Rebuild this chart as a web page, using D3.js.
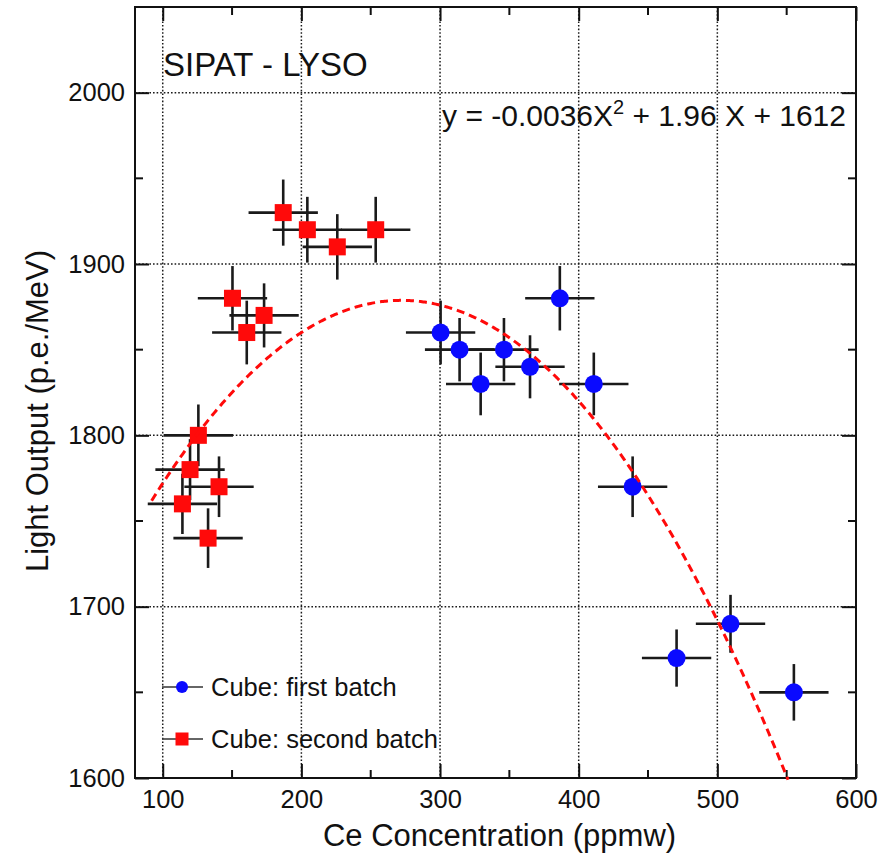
<!DOCTYPE html>
<html>
<head>
<meta charset="utf-8">
<script src="https://cdn.jsdelivr.net/npm/d3@7/dist/d3.min.js"></script>
<style>
  html, body { margin: 0; padding: 0; background: #fff; }
  svg text { font-family: "Liberation Sans", Arial, Helvetica, sans-serif; fill: #111; }
</style>
</head>
<body>
<svg id="chart" width="889" height="855"></svg>
<script>
// Cube samples, first batch (blue circles)
const firstX    = [300.4, 314.1, 329.3, 346.1, 364.9, 386.4, 410.9, 438.9, 470.6, 509.5, 555.2];
const firstY    = [1860, 1850, 1830, 1850, 1840, 1880, 1830, 1770, 1670, 1690, 1650];
const firstXErr = [25, 25, 25, 25, 25, 25, 25, 25, 25, 25, 25];
const firstYErr = [18.6, 18.5, 18.3, 18.5, 18.4, 18.8, 18.3, 17.7, 16.7, 16.9, 16.5];

// Cube samples, second batch (red squares)
const secondX    = [186.9, 204.3, 225.9, 253.6, 150.3, 173.1, 160.6, 125.7, 119.7, 140.6, 114.2, 132.7];
const secondY    = [1930, 1920, 1910, 1920, 1880, 1870, 1860, 1800, 1780, 1770, 1760, 1740];
const secondXErr = [25, 25, 25, 25, 25, 25, 25, 25, 25, 25, 25, 25];
const secondYErr = [19.3, 19.2, 19.1, 19.2, 18.8, 18.7, 18.6, 18.0, 17.8, 17.7, 17.6, 17.4];

// Quadratic fit y = a x^2 + b x + c
const fitA = -0.0036, fitB = 1.96, fitC = 1612;
const fitRange = [92, 551];

// Axis ticks
const xTicks = [100, 200, 300, 400, 500, 600];
const xMinor = [150, 250, 350, 450, 550];
const yTicks = [1600, 1700, 1800, 1900, 2000];
const yMinor = [1650, 1750, 1850, 1950];
const xGrid = [100, 200, 300, 400, 500];
const yGrid = [1700, 1800, 1900, 2000];

const legendLabels = ["Cube: first batch", "Cube: second batch"];

const blue = "#0a0aff", red = "#ff0a0a", barColor = "#1a1a1a";

const svg = d3.select("#chart");
const L = 135, R = 856, T = 7, B = 778;

const x = d3.scaleLinear().domain([80, 600]).range([L, R]);
const y = d3.scaleLinear().domain([1600, 2050]).range([B, T]);

// grid
const grid = svg.append("g").attr("stroke", "#1a1a1a").attr("stroke-width", 1.5)
  .attr("stroke-dasharray", "1.6,2");
grid.selectAll("line.gx").data(xGrid).join("line")
  .attr("x1", d => x(d)).attr("x2", d => x(d)).attr("y1", T).attr("y2", B);
grid.selectAll("line.gy").data(yGrid).join("line")
  .attr("y1", d => y(d)).attr("y2", d => y(d)).attr("x1", L).attr("x2", R);

// axes with inward ticks on all four sides
const major = 14, minor = 8;
const axBottom = d3.axisBottom(x).tickValues(xTicks).tickSize(-major).tickPadding(12).tickFormat(d3.format("d"));
const axLeft = d3.axisLeft(y).tickValues(yTicks).tickSize(-major).tickPadding(10).tickFormat(d3.format("d"));

const gB = svg.append("g").attr("transform", `translate(0,${B})`).call(axBottom);
const gL = svg.append("g").attr("transform", `translate(${L},0)`).call(axLeft);
[gB, gL].forEach(g => {
  g.select(".domain").remove();
  g.selectAll(".tick line").attr("stroke", "#111").attr("stroke-width", 2);
  g.selectAll(".tick text").attr("font-size", 25.5).attr("fill", "#111")
    .style("font-family", "'Liberation Sans', Arial, sans-serif");
});

svg.append("g").attr("transform", `translate(0,${T})`)
  .call(d3.axisTop(x).tickValues(xTicks).tickSize(-major).tickFormat(""))
  .call(g => { g.select(".domain").remove(); g.selectAll("line").attr("stroke", "#111").attr("stroke-width", 2); });
svg.append("g").attr("transform", `translate(${R},0)`)
  .call(d3.axisRight(y).tickValues(yTicks).tickSize(-major).tickFormat(""))
  .call(g => { g.select(".domain").remove(); g.selectAll("line").attr("stroke", "#111").attr("stroke-width", 2); });

// minor ticks
const mt = svg.append("g").attr("stroke", "#111").attr("stroke-width", 2);
xMinor.forEach(v => {
  mt.append("line").attr("x1", x(v)).attr("x2", x(v)).attr("y1", B).attr("y2", B - minor);
  mt.append("line").attr("x1", x(v)).attr("x2", x(v)).attr("y1", T).attr("y2", T + minor);
});
yMinor.forEach(v => {
  mt.append("line").attr("y1", y(v)).attr("y2", y(v)).attr("x1", L).attr("x2", L + minor);
  mt.append("line").attr("y1", y(v)).attr("y2", y(v)).attr("x1", R).attr("x2", R - minor);
});

// frame
svg.append("rect").attr("x", L).attr("y", T).attr("width", R - L).attr("height", B - T)
  .attr("fill", "none").attr("stroke", "#111").attr("stroke-width", 2);

// error bars
function errorBars(xs, ys, xe, ye) {
  const g = svg.append("g").attr("stroke", barColor).attr("stroke-width", 2.6);
  xs.forEach((xv, i) => {
    g.append("line").attr("x1", x(xv - xe[i])).attr("x2", x(xv + xe[i])).attr("y1", y(ys[i])).attr("y2", y(ys[i]));
    g.append("line").attr("x1", x(xv)).attr("x2", x(xv)).attr("y1", y(ys[i] - ye[i])).attr("y2", y(ys[i] + ye[i]));
  });
}
errorBars(secondX, secondY, secondXErr, secondYErr);
errorBars(firstX, firstY, firstXErr, firstYErr);

// markers
const sq = 17;
svg.append("g").selectAll("rect").data(secondX).join("rect")
  .attr("x", (d) => x(d) - sq / 2).attr("y", (d, i) => y(secondY[i]) - sq / 2)
  .attr("width", sq).attr("height", sq).attr("fill", red);
svg.append("g").selectAll("circle").data(firstX).join("circle")
  .attr("cx", d => x(d)).attr("cy", (d, i) => y(firstY[i])).attr("r", 9).attr("fill", blue);

// fit curve
const fitPts = d3.range(fitRange[0], fitRange[1] + 0.01, 1).map(v => [v, fitA * v * v + fitB * v + fitC]);
svg.append("path").datum(fitPts)
  .attr("d", d3.line().x(d => x(d[0])).y(d => y(d[1])))
  .attr("fill", "none").attr("stroke", red).attr("stroke-width", 3)
  .attr("stroke-dasharray", "8,5");

// title and equation
svg.append("text").attr("x", 163).attr("y", 76).attr("font-size", 33).text("SIPAT - LYSO");
const eq = svg.append("text").attr("x", 846).attr("y", 126).attr("font-size", 30).attr("text-anchor", "end");
eq.append("tspan").text("y = -0.0036X");
eq.append("tspan").attr("dy", -12).attr("font-size", 20).text("2");
eq.append("tspan").attr("dy", 12).text(" + 1.96 X + 1612");

// axis titles
svg.append("text").attr("x", (L + R) / 2 + 4).attr("y", 846).attr("text-anchor", "middle")
  .attr("font-size", 31).text("Ce Concentration (ppmw)");
svg.append("text").attr("transform", "translate(48,411) rotate(-90)").attr("text-anchor", "middle")
  .attr("font-size", 31).text("Light Output (p.e./MeV)");

// legend
const lg = svg.append("g");
[0, 1].forEach(i => {
  const cy = i === 0 ? 687 : 739;
  lg.append("line").attr("x1", 162).attr("x2", 203).attr("y1", cy).attr("y2", cy)
    .attr("stroke", "#333").attr("stroke-width", 1.6);
  if (i === 0) lg.append("circle").attr("cx", 182).attr("cy", cy).attr("r", 6).attr("fill", blue);
  else lg.append("rect").attr("x", 182 - 6.5).attr("y", cy - 6.5).attr("width", 13).attr("height", 13).attr("fill", red);
  lg.append("text").attr("x", 211).attr("y", cy + 9).attr("font-size", 25.5).text(legendLabels[i]);
});
</script>
</body>
</html>
